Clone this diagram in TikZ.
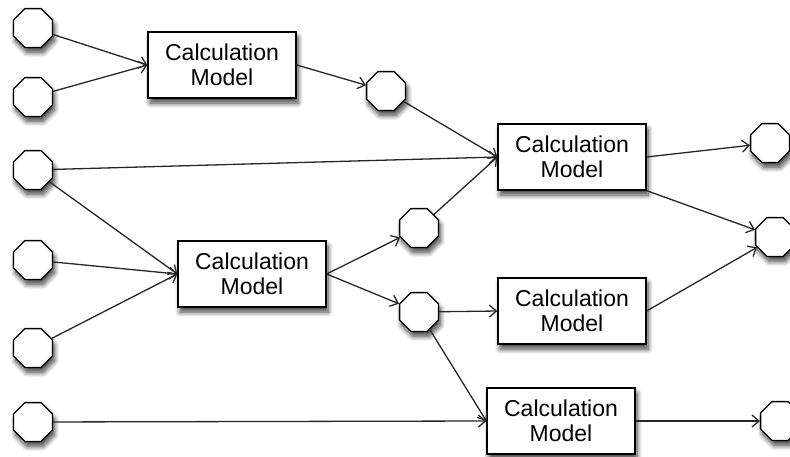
\documentclass[tikz,border=0pt]{standalone}
\usepackage{fontspec}
\setmainfont{Liberation Sans}
\usetikzlibrary{arrows.meta,shapes.geometric,shadows.blur}
\begin{document}
\begin{tikzpicture}[x=1pt, y=-1pt,
    softshadow/.style = {blur shadow={shadow xshift=2pt, shadow yshift=-5pt, shadow blur radius=5pt, shadow opacity=75, shadow blur steps=8}},
    oct/.style = {draw, regular polygon, regular polygon sides=8, minimum size=42pt, inner sep=0pt, fill=white, line width=1.3pt, softshadow},
    model/.style = {draw, rectangle, fill=white, line width=1.3pt, minimum width=148pt, minimum height=66pt, align=center, font=\fontsize{23}{25}\selectfont, softshadow},
    link/.style = {-{Straight Barb[length=7pt,width=12pt]}, line width=1.3pt, draw=black!85}]
        \useasboundingbox (0,0) rectangle (790,456);
        % inputs
        \node[oct] (in1) at (33,28) {};
        \node[oct] (in2) at (33,97) {};
        \node[oct] (in3) at (33,170) {};
        \node[oct] (in4) at (33,260) {};
        \node[oct] (in5) at (33,348) {};
        \node[oct] (in6) at (33,422) {};
        % models
        \node[model] (cm1) at (222,65) {Calculation\\Model};
        \node[model] (cm2) at (572,157) {Calculation\\Model};
        \node[model] (cm3) at (252,274) {Calculation\\Model};
        \node[model] (cm4) at (572,311) {Calculation\\Model};
        \node[model] (cm5) at (561,421) {Calculation\\Model};
        % intermediate values
        \node[oct] (mid1) at (386,91) {};
        \node[oct] (mid2) at (419,228) {};
        \node[oct] (mid3) at (419,312) {};
        % outputs
        \node[oct] (out1) at (770,143) {};
        \node[oct] (out2) at (775,237) {};
        \node[oct] (out3) at (780,421) {};
        % connectors
        \draw[link] (in1) -- (cm1.west);
        \draw[link] (in2) -- (cm1.west);
        \draw[link] (cm1.east) -- (mid1);
        \draw[link] (mid1) -- (cm2.west);
        \draw[link] (in3) -- (cm2.west);
        \draw[link] (in3) -- (cm3.west);
        \draw[link] (in4) -- (cm3.west);
        \draw[link] (in5) -- (cm3.west);
        \draw[link] (cm3.east) -- (mid2);
        \draw[link] (cm3.east) -- (mid3);
        \draw[link] (mid2) -- (cm2.west);
        \draw[link] (mid3) -- (cm4.west);
        \draw[link] (mid3) -- (cm5.west);
        \draw[link] (in6) -- (cm5.west);
        \draw[link] (cm2.east) -- (out1);
        \draw[link] (cm2.south east) -- (out2);
        \draw[link] (cm4.east) -- (out2);
        \draw[link] (cm5.east) -- (out3);
      \end{tikzpicture}
\end{document}
